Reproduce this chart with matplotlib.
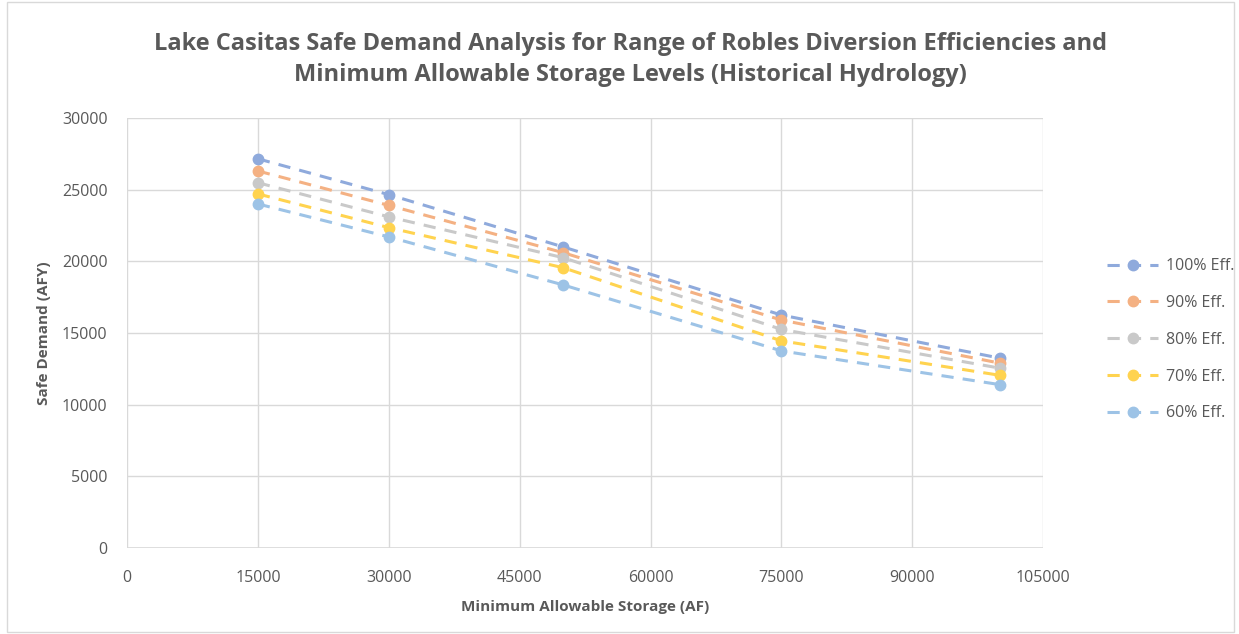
import matplotlib.pyplot as plt
import matplotlib.patches as patches

# data
storage = [15000, 30000, 50000, 75000, 100000]
labels = ['100% Eff.', '90% Eff.', '80% Eff.', '70% Eff.', '60% Eff.']
eff_100 = [27150, 24650, 21000, 16250, 13250]
eff_90 = [26300, 23900, 20600, 15900, 12900]
eff_80 = [25480, 23100, 20250, 15250, 12550]
eff_70 = [24700, 22350, 19550, 14450, 12050]
eff_60 = [24000, 21700, 18350, 13750, 11400]
colors = ['#8faadc', '#f4b183', '#c9c9c9', '#ffd34f', '#9dc3e6']

x_ticks = [0, 15000, 30000, 45000, 60000, 75000, 90000, 105000]
y_ticks = [0, 5000, 10000, 15000, 20000, 25000, 30000]

txt = '#595959'
plt.rcParams['font.family'] = ['Open Sans', 'DejaVu Sans']

fig = plt.figure(figsize=(12.39, 6.34), dpi=100)
fig.subplots_adjust(left=0.1025, right=0.842, bottom=0.1356, top=0.814)
ax = fig.add_subplot()

series = [eff_100, eff_90, eff_80, eff_70, eff_60]
for vals, lab, c in zip(series, labels, colors):
    ax.plot(storage, vals, ls=(0, (4, 3)), lw=2.2, color=c,
            marker='o', ms=7.5, label=lab)

ax.set_xlim(0, 105000)
ax.set_ylim(0, 30000)
ax.set_xticks(x_ticks)
ax.set_yticks(y_ticks)
ax.grid(True, color='#d9d9d9', lw=1)
ax.set_axisbelow(True)
for s in ax.spines.values():
    s.set_visible(False)
ax.axhline(0, color='#d9d9d9', lw=1.2)
ax.tick_params(length=0, labelsize=11.5, labelcolor=txt)
ax.tick_params(axis='x', pad=16)
ax.tick_params(axis='y', pad=14)

ax.set_xlabel('Minimum Allowable Storage (AF)', fontsize=11,
              weight='bold', color=txt, labelpad=10)
ax.set_ylabel('Safe Demand (AFY)', fontsize=11, weight='bold',
              color=txt, labelpad=8)

fig.text(0.509, 0.906, 'Lake Casitas Safe Demand Analysis for Range of Robles Diversion Efficiencies and\n'
         'Minimum Allowable Storage Levels (Historical Hydrology)',
         ha='center', va='center', fontsize=17, weight='bold', color=txt,
         linespacing=1.4)

leg = fig.legend(loc='center left', bbox_to_anchor=(0.882, 0.464), frameon=False,
                 fontsize=11.5, labelspacing=1.3, handlelength=3.2,
                 handletextpad=0.5)
for t in leg.get_texts():
    t.set_color(txt)

# light frame around the whole chart
fig.patches.append(patches.Rectangle((0.006, 0.003), 0.99, 0.994,
                                     transform=fig.transFigure, fill=False,
                                     ec='#d9d9d9', lw=1))

fig.savefig('out.png', dpi=100)
